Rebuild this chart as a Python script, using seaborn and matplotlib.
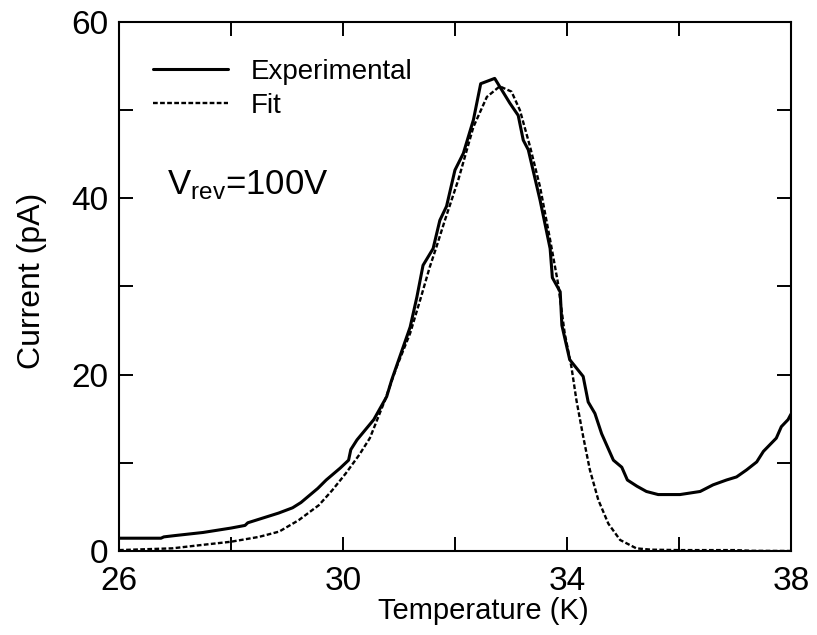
import matplotlib
matplotlib.use("Agg")
import matplotlib.pyplot as plt
from matplotlib.ticker import MultipleLocator
import seaborn as sns
import pandas as pd

# Experimental TSC curve
temp_exp = [26.0, 26.75, 26.8, 27.0, 27.5, 28.0, 28.25, 28.3, 28.6, 28.85,
            29.1, 29.25, 29.4, 29.55, 29.7, 29.95, 30.1, 30.14, 30.25, 30.55,
            30.78, 30.87, 31.2, 31.32, 31.43, 31.61, 31.73, 31.85, 32.0, 32.15,
            32.33, 32.46, 32.71, 32.98, 33.13, 33.22, 33.31, 33.52, 33.7, 33.74,
            33.88, 33.91, 34.05, 34.29, 34.38, 34.5, 34.62, 34.83, 34.98, 35.08,
            35.25, 35.42, 35.63, 36.02, 36.38, 36.61, 36.85, 37.03, 37.21, 37.39,
            37.51, 37.74, 37.83, 37.95, 38.0]
cur_exp = [1.45, 1.45, 1.6, 1.75, 2.1, 2.6, 2.9, 3.2, 3.8, 4.3,
           4.9, 5.5, 6.3, 7.1, 8.05, 9.4, 10.3, 11.5, 12.6, 14.9,
           17.5, 19.4, 25.4, 28.8, 32.4, 34.3, 37.5, 39.1, 43.2, 45.1,
           48.9, 53.0, 53.6, 50.8, 49.4, 46.6, 45.5, 39.8, 34.3, 31.0,
           29.4, 25.6, 21.7, 19.8, 16.9, 15.6, 13.3, 10.3, 9.5, 8.05,
           7.35, 6.75, 6.4, 6.4, 6.75, 7.5, 8.05, 8.4, 9.2, 10.1,
           11.3, 12.8, 14.1, 14.9, 15.5]

# Fit curve
temp_fit = [26.0, 26.95, 27.5, 28.0, 28.5, 28.86, 29.21, 29.57, 29.81, 30.05,
            30.29, 30.48, 30.75, 30.96, 31.2, 31.38, 31.55, 31.67, 31.82, 32.06,
            32.33, 32.57, 32.8, 33.01, 33.16, 33.34, 33.52, 33.7, 33.84, 33.96,
            34.08, 34.17, 34.29, 34.41, 34.56, 34.74, 34.95, 35.24, 35.5, 36.0,
            37.0, 37.3, 38.0]
cur_fit = [0.1, 0.3, 0.7, 1.05, 1.6, 2.2, 3.5, 5.2, 6.9, 8.8,
           10.9, 12.8, 17.1, 20.9, 24.7, 28.5, 32.2, 34.5, 37.5, 42.1,
           48.1, 51.5, 52.7, 52.1, 50.0, 45.9, 41.3, 35.3, 30.4, 24.7,
           20.9, 17.1, 13.0, 9.2, 5.8, 3.1, 1.25, 0.3, 0.15, 0.1,
           0.1, 0.02, 0.0]

x_ticks = [26, 30, 34, 38]
y_ticks = [0, 20, 40, 60]

df_exp = pd.DataFrame({"T": temp_exp, "I": cur_exp})
df_fit = pd.DataFrame({"T": temp_fit, "I": cur_fit})

sns.set_theme(style="ticks")
plt.rcParams["font.family"] = ["Liberation Sans", "DejaVu Sans"]
plt.rcParams["mathtext.fontset"] = "custom"
plt.rcParams["mathtext.rm"] = "Liberation Sans"
plt.rcParams["mathtext.it"] = "Liberation Sans"
plt.rcParams["text.color"] = "black"
plt.rcParams["axes.labelcolor"] = "black"

fig = plt.figure(figsize=(8.17, 6.35), dpi=100)
ax = fig.add_axes([0.1457, 0.1323, 0.8223, 0.8331])

sns.lineplot(data=df_exp, x="T", y="I", ax=ax, color="black", lw=2.2,
             label="Experimental")
sns.lineplot(data=df_fit, x="T", y="I", ax=ax, color="black", lw=1.7,
             linestyle=(0, (2.0, 1.0)), label="Fit")

ax.set_xlim(26, 38)
ax.set_ylim(0, 60)
ax.set_xticks(x_ticks)
ax.set_yticks(y_ticks)
ax.xaxis.set_minor_locator(MultipleLocator(2))
ax.yaxis.set_minor_locator(MultipleLocator(10))
ax.tick_params(which="both", direction="in", length=10, width=1.4,
               top=True, right=True, colors="black")
ax.tick_params(axis="x", which="major", labelsize=24, pad=10.5)
ax.tick_params(axis="y", which="major", labelsize=24, pad=7.5)
for sp in ax.spines.values():
    sp.set_linewidth(1.5)
    sp.set_color("black")

ax.set_xlabel("Temperature (K)", fontsize=21)
ax.set_ylabel("Current (pA)", fontsize=23)
ax.xaxis.set_label_coords(0.542, -0.087)
ax.yaxis.set_label_coords(-0.107, 0.51)

ax.text(26.86, 40.5, r"V$_{\rm rev}$=100V", fontsize=25, ha="left", va="baseline")

leg = ax.legend(loc="upper left", bbox_to_anchor=(0.05, 0.930), frameon=False,
                fontsize=20, handlelength=2.73, handletextpad=0.8,
                labelspacing=0.28, borderpad=0, borderaxespad=0)

fig.savefig("out.png", dpi=100)
